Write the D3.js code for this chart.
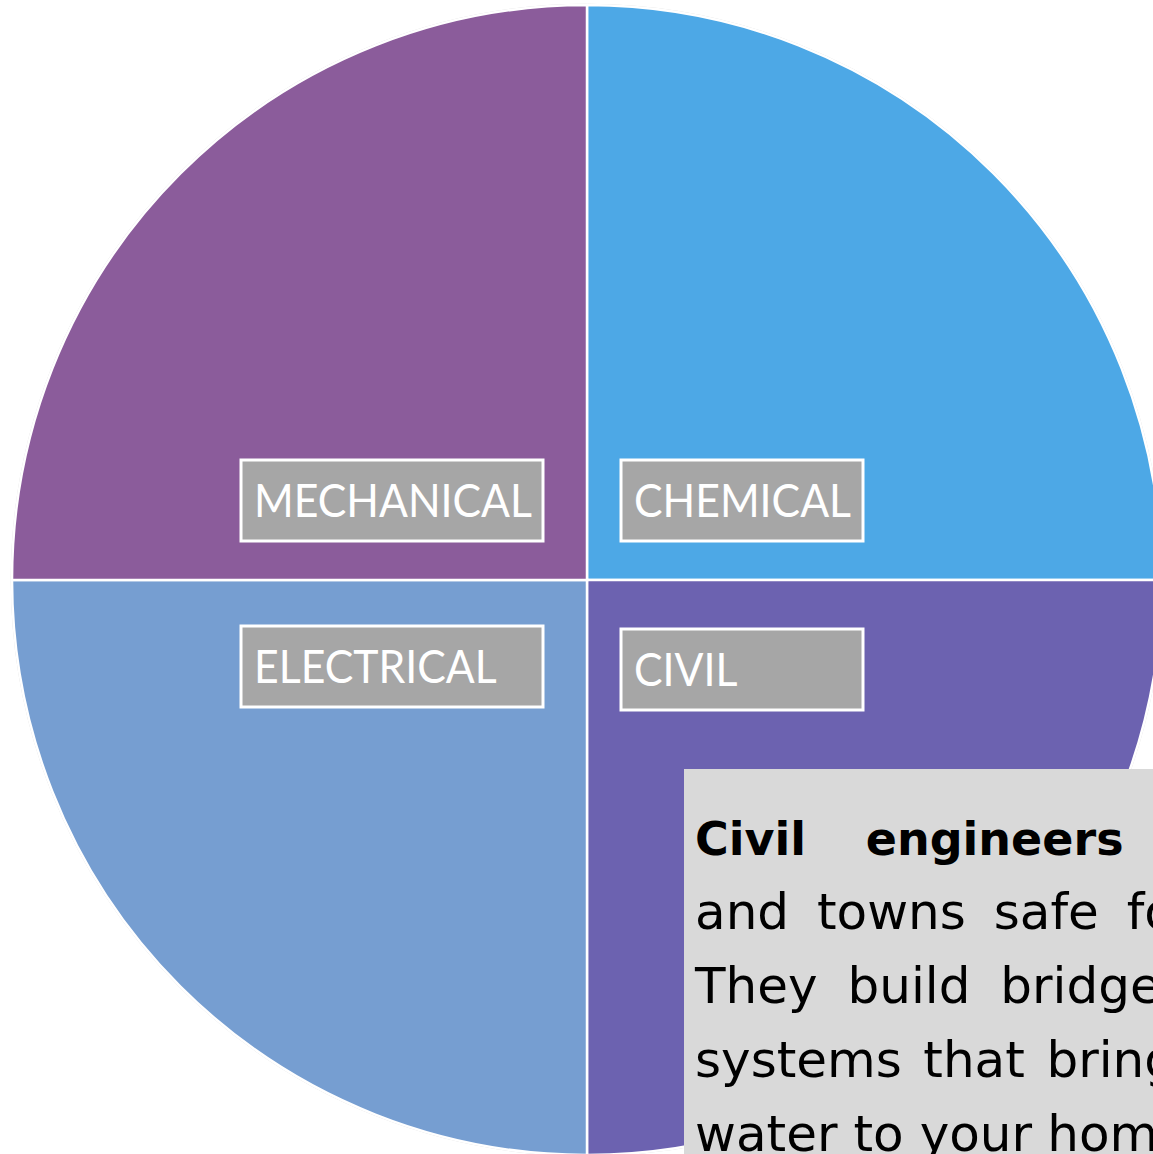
<!DOCTYPE html>
<html lang="en">
<head>
<meta charset="UTF-8">
<title>Engineering types</title>
<script src="https://d3js.org/d3.v7.min.js"></script>
<style>
    html, body {
        margin:0;
        padding:0;
        width:100%;
        height:100%;
        overflow:hidden;
        background:#fff;
    }
    svg { display:block; }
</style>
</head>
<body>
<div id="chart"></div>
<script>
    // data
    const categories = ["CHEMICAL", "CIVIL", "ELECTRICAL", "MECHANICAL"];
    const values = [25, 25, 25, 25];
    const colors = ["#4DA8E6", "#6C62B0", "#769ED1", "#8B5C9B"];
    const boxWidths = [242, 242, 302, 302];
    const boldWords = 2;
    const noteLines = [
        ["Civil", "engineers", "keep", "cities"],
        ["and", "towns", "safe", "for", "all", "people."],
        ["They", "build", "bridges,", "roads", "and"],
        ["systems", "that", "bring", "fresh,", "clean"],
        ["water", "to", "your", "homes."]
    ];

    const width = 1153, height = 1154;
    const cx = 587, cy = 580, radius = 575;

    const svg = d3.select("#chart")
        .append("svg")
        .attr("width", width)
        .attr("height", height);

    const g = svg.append("g")
        .attr("transform", `translate(${cx},${cy})`);

    const pie = d3.pie().sort(null).value(d => d.v);
    const arc = d3.arc().innerRadius(0).outerRadius(radius);
    const data = pie(categories.map((c, i) => ({name: c, v: values[i], color: colors[i], w: boxWidths[i]})));

    // faint outer ring
    g.append("circle")
        .attr("r", radius + 0.5)
        .attr("fill", "none")
        .attr("stroke", "#d8d8d8")
        .attr("stroke-width", 1.5);

    g.selectAll("path.slice")
        .data(data)
        .join("path")
        .attr("class", "slice")
        .attr("d", arc)
        .attr("fill", d => d.data.color)
        .attr("stroke", "#fff")
        .attr("stroke-width", 2.5);

    // label boxes near the centre of each slice
    const boxH = 81;
    const labels = g.selectAll("g.lbl")
        .data(data)
        .join("g")
        .attr("class", "lbl")
        .attr("transform", d => {
            const mid = (d.startAngle + d.endAngle) / 2;
            const sx = Math.sin(mid) > 0 ? 1 : -1;
            const sy = -Math.cos(mid) > 0 ? 1 : -1;
            const x = sx > 0 ? 34 : -44 - d.data.w;
            let y = sy > 0 ? 46 : -39 - boxH;
            if (sx > 0 && sy > 0) y = 49;
            return `translate(${x},${y})`;
        });

    labels.append("rect")
        .attr("width", d => d.data.w)
        .attr("height", boxH)
        .attr("fill", "#A6A6A6")
        .attr("stroke", "#fff")
        .attr("stroke-width", 3);

    labels.append("text")
        .attr("transform", "translate(13,57) scale(0.91,1)")
        .attr("fill", "#fff")
        .style("font-family", "Lato, 'Open Sans', sans-serif")
        .style("font-size", "47px")
        .text(d => d.data.name);

    // note box
    const note = svg.append("g").attr("transform", "translate(684,769)");
    note.append("rect")
        .attr("width", 700)
        .attr("height", 500)
        .attr("fill", "#D9D9D9");

    const lineW = 800, lineH = 74;
    noteLines.forEach((words, li) => {
        const t = note.append("text")
            .attr("y", 86 + li * lineH)
            .attr("fill", "#000")
            .style("font-family", "'DejaVu Sans', sans-serif")
            .style("font-size", "50px");
        const spans = words.map((w, wi) => {
            const b = li === 0 && wi < boldWords;
            return t.append("tspan")
                .style("font-weight", b ? "bold" : "normal")
                .style("font-size", b ? "46px" : null)
                .text(w);
        });
        const ws = spans.map(s => s.node().getComputedTextLength());
        const last = li === noteLines.length - 1;
        const gap = last ? 16 : (lineW - d3.sum(ws)) / (words.length - 1);
        let x = 11;
        spans.forEach((s, i) => { s.attr("x", x); x += ws[i] + gap; });
    });
</script>
</body>
</html>
